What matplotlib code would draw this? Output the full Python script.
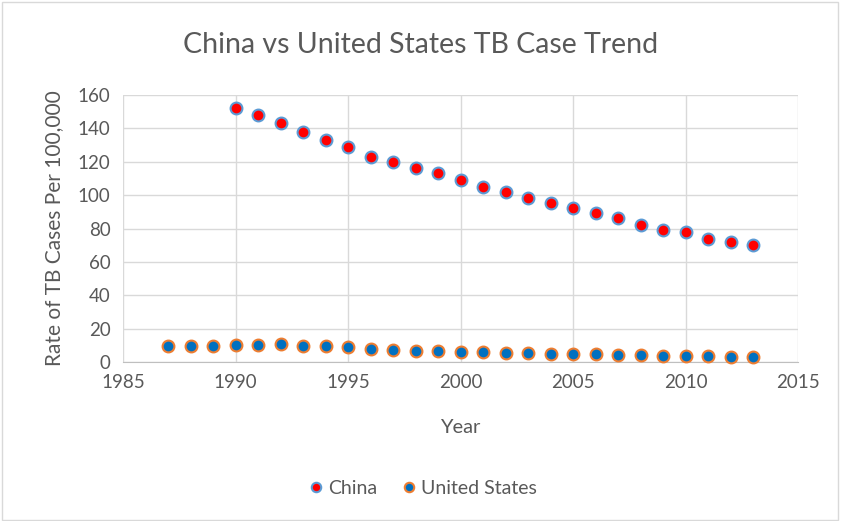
import numpy as np
from matplotlib import pyplot as plt
from matplotlib.patches import Rectangle

plt.rcParams['font.family'] = ['Lato', 'DejaVu Sans']

china_years = np.arange(1990, 2014)
china_rate = [152, 148, 143, 138, 133, 129, 123, 120, 116, 113, 109, 105,
              102, 98, 95, 92, 89, 86, 82, 79, 78, 74, 72, 70]
us_years = np.arange(1987, 2014)
us_rate = [9.3, 9.4, 9.5, 10.3, 10.4, 10.5, 9.8, 9.4, 8.7, 8.0, 7.4, 6.8, 6.4,
           6.0, 5.7, 5.3, 5.1, 4.9, 4.8, 4.6, 4.4, 4.2, 3.8, 3.6, 3.4, 3.2, 3.0]

grey = '#595959'
fig = plt.figure(figsize=(8.41, 5.21), dpi=100)
ax = fig.add_axes([123 / 841, 1 - 362 / 521, (798 - 123) / 841, (362 - 95) / 521])

ax.plot(china_years, china_rate, 'o', ms=8.5, mfc='#FF0000', mec='#5B9BD5',
        mew=1.5, label='China', clip_on=False, zorder=3)
ax.plot(us_years, us_rate, 'o', ms=8.5, mfc='#0070C0', mec='#ED7D31',
        mew=1.5, label='United States', clip_on=False, zorder=3)

ax.set_xlim(1985, 2015)
ax.set_ylim(0, 160)
ax.set_xticks(range(1985, 2016, 5))
ax.set_yticks(range(0, 161, 20))
ax.grid(True, color='#D9D9D9', lw=1)
ax.set_axisbelow(True)
for s in ['top', 'right', 'left']:
    ax.spines[s].set_visible(False)
ax.spines['bottom'].set_color('#BFBFBF')
ax.tick_params(length=0, labelsize=13.5, colors=grey, pad=9)

ax.set_xlabel('Year', fontsize=14.5, color=grey, labelpad=20)
ax.set_ylabel('Rate of TB Cases Per 100,000', fontsize=15, color=grey, labelpad=10)
fig.text(0.5, 1 - 45 / 521, 'China vs United States TB Case Trend',
         ha='center', va='center', fontsize=20.5, color=grey)

fig.legend(loc='center', bbox_to_anchor=(0.5, 1 - 488 / 521), ncol=2,
           frameon=False, fontsize=14, labelcolor=grey, handletextpad=0.05,
           columnspacing=1.0, markerscale=0.8, handlelength=1.2)

fig.patches.append(Rectangle((0.002, 0.002), 0.995, 0.995, transform=fig.transFigure,
                             fill=False, ec='#D9D9D9', lw=1))

plt.savefig('out.png', dpi=100)
